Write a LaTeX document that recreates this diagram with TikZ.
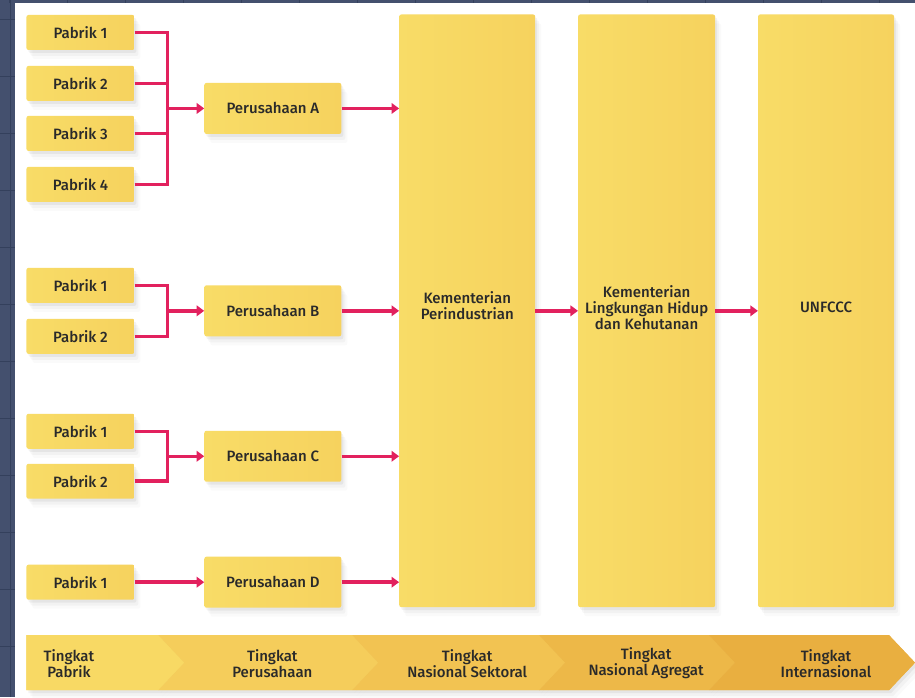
\documentclass[tikz,border=0pt]{standalone}
\usepackage{fontspec}
\setmainfont{Fira Sans Medium}
\usetikzlibrary{arrows.meta,shadows}
\definecolor{bgblue}{HTML}{44506E}
\definecolor{gridcol}{HTML}{34405C}
\definecolor{boxL}{HTML}{F8DC67}
\definecolor{boxR}{HTML}{F6D25E}
\definecolor{conncol}{HTML}{E2215E}
\definecolor{txt}{HTML}{2A2A2A}
\definecolor{chA}{HTML}{F8D964}
\definecolor{chB}{HTML}{F5CD5B}
\definecolor{chC}{HTML}{F2C352}
\definecolor{chD}{HTML}{EDB848}
\definecolor{chE}{HTML}{E9AF40}
\tikzset{
  softshadow/.style={
    general shadow={shadow xshift=2pt,shadow yshift=-3pt,fill=black,opacity=0.05},
    general shadow={shadow xshift=4pt,shadow yshift=-6pt,fill=black,opacity=0.03},
    general shadow={shadow xshift=6pt,shadow yshift=-9pt,fill=black,opacity=0.02}},
  anybox/.style={rectangle, rounded corners=2pt, left color=boxL, right color=boxR,
    draw=none, inner sep=0pt, text=txt, align=center, softshadow,
    font=\fontsize{15}{16}\selectfont},
  pbox/.style={anybox, minimum width=108pt, minimum height=35pt},
  cbox/.style={anybox, minimum width=137pt, minimum height=51pt},
  bigbox/.style={anybox, minimum width=136pt, minimum height=593pt},
  lbl/.style={text=txt, align=center, inner sep=0pt, font=\fontsize{15}{16}\selectfont},
  conn/.style={draw=conncol, line width=3.5pt, line join=miter},
  arr/.style={conn, -{Triangle[length=7.5pt,width=10.5pt]}},
  gridl/.style={draw=gridcol, line width=1pt},
  chev/.style={softshadow},
}
\begin{document}
\begin{tikzpicture}[x=1pt,y=-1pt]
% background
\fill[bgblue] (0,0) rectangle (915,697);
\foreach \x in {9,67,...,915} \draw[gridl] (\x,0) -- (\x,3);
\draw[gridl] (10,0) -- (10,697);
\foreach \y in {19,76,...,697} \draw[gridl] (0,\y) -- (15,\y);
\fill[white] (15,3) rectangle (915,697);
\useasboundingbox (0,0) rectangle (915,697);

% Pabrik boxes
\node[pbox] (a1) at (80,32) {Pabrik 1};
\node[pbox] (a2) at (80,83) {Pabrik 2};
\node[pbox] (a3) at (80,133) {Pabrik 3};
\node[pbox] (a4) at (80,184) {Pabrik 4};
\node[pbox] (b1) at (80,285) {Pabrik 1};
\node[pbox] (b2) at (80,336) {Pabrik 2};
\node[pbox] (c1) at (80,431) {Pabrik 1};
\node[pbox] (c2) at (80,481) {Pabrik 2};
\node[pbox] (d1) at (80,582) {Pabrik 1};

% Perusahaan boxes
\node[cbox] (pa) at (272.5,108) {Perusahaan A};
\node[cbox] (pb) at (272.5,310.5) {Perusahaan B};
\node[cbox] (pc) at (272.5,456) {Perusahaan C};
\node[cbox] (pd) at (272.5,582) {Perusahaan D};

% big boxes
\node[bigbox] (km) at (467,310.5) {};
\node[lbl] (kmt) at (467,305) {Kementerian\\Perindustrian};
\node[bigbox, minimum width=137pt] (kl) at (646.5,310.5) {};
\node[lbl] (klt) at (646.5,307) {Kementerian\\Lingkungan Hidup\\dan Kehutanan};
\node[bigbox] (un) at (826,310.5) {};
\node[lbl] (unt) at (826,307) {UNFCCC};

% junctions
\coordinate (ja) at (167,108);
\coordinate (jb) at (167,310.5);
\coordinate (jc) at (167,456);

% group A
\draw[conn] (a1.east) -| (ja);
\draw[conn] (a4.east) -| (ja);
\draw[conn] (a2.east) -- (a2.east -| ja);
\draw[conn] (a3.east) -- (a3.east -| ja);
\draw[arr] (ja) -- (pa.west);
% group B
\draw[conn] (b1.east) -| (jb);
\draw[conn] (b2.east) -| (jb);
\draw[arr] (jb) -- (pb.west);
% group C
\draw[conn] (c1.east) -| (jc);
\draw[conn] (c2.east) -| (jc);
\draw[arr] (jc) -- (pc.west);
% group D
\draw[arr] (d1.east) -- (pd.west);

% to ministry
\draw[arr] (pa.east) -- (pa.east -| km.west);
\draw[arr] (pb.east) -- (pb.east -| km.west);
\draw[arr] (pc.east) -- (pc.east -| km.west);
\draw[arr] (pd.east) -- (pd.east -| km.west);
\draw[arr] (km.east) -- (kl.west);
\draw[arr] (kl.east) -- (un.west);

% bottom chevrons: shadows first, then fills
\fill[chA,chev] (26,635) -- (158,635) -- (184,662.5) -- (158,690) -- (26,690) -- cycle;
\fill[chB,chev] (158,635) -- (352,635) -- (378,662.5) -- (352,690) -- (158,690) -- (184,662.5) -- cycle;
\fill[chC,chev] (352,635) -- (539,635) -- (565,662.5) -- (539,690) -- (352,690) -- (378,662.5) -- cycle;
\fill[chD,chev] (539,635) -- (709,635) -- (735,662.5) -- (709,690) -- (539,690) -- (565,662.5) -- cycle;
\fill[chE,chev] (709,635) -- (889,635) -- (915,662.5) -- (889,690) -- (709,690) -- (735,662.5) -- cycle;
\fill[chA] (26,635) -- (158,635) -- (184,662.5) -- (158,690) -- (26,690) -- cycle;
\fill[chB] (158,635) -- (352,635) -- (378,662.5) -- (352,690) -- (158,690) -- (184,662.5) -- cycle;
\fill[chC] (352,635) -- (539,635) -- (565,662.5) -- (539,690) -- (352,690) -- (378,662.5) -- cycle;
\fill[chD] (539,635) -- (709,635) -- (735,662.5) -- (709,690) -- (539,690) -- (565,662.5) -- cycle;
\fill[chE] (709,635) -- (889,635) -- (915,662.5) -- (889,690) -- (709,690) -- (735,662.5) -- cycle;
\node[lbl] (t1) at (68.5,663) {Tingkat\\Pabrik};
\node[lbl] (t2) at (272,663) {Tingkat\\Perusahaan};
\node[lbl] (t3) at (467,663) {Tingkat\\Nasional Sektoral};
\node[lbl] (t4) at (646,663) {Tingkat\\Nasional Agregat};
\node[lbl] (t5) at (826,663) {Tingkat\\Internasional};
\end{tikzpicture}
\end{document}
